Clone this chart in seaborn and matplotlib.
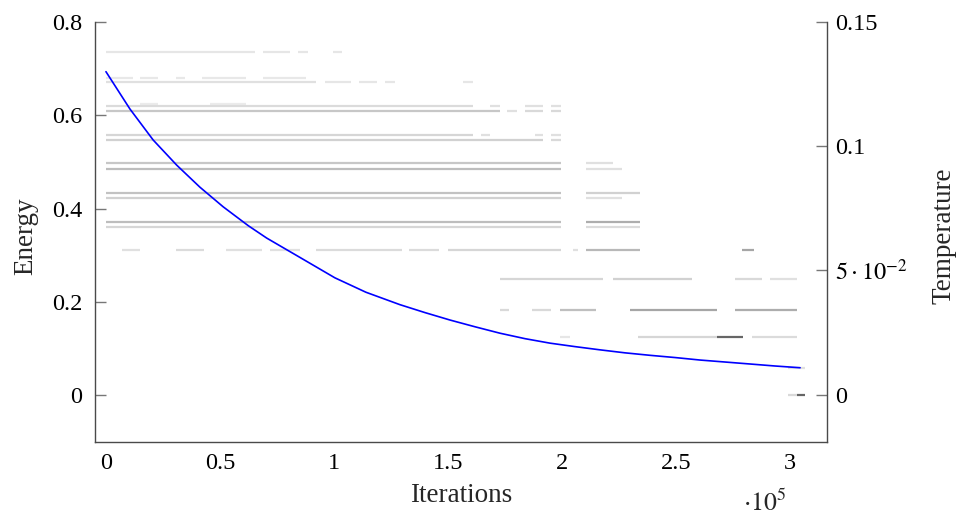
import matplotlib
matplotlib.use("Agg")
import matplotlib.pyplot as plt
import seaborn as sns
import pandas as pd

# Energy levels visited by the annealing run, as horizontal runs over iterations
seg_energy = [0.735, 0.735, 0.735, 0.735,
              0.680, 0.680, 0.680, 0.680, 0.680,
              0.672, 0.672, 0.672, 0.672, 0.672,
              0.624, 0.624,
              0.620, 0.620, 0.620, 0.620,
              0.609, 0.609, 0.609, 0.609,
              0.558, 0.558, 0.558, 0.558,
              0.547, 0.547,
              0.498, 0.498,
              0.485, 0.485,
              0.433, 0.433,
              0.423, 0.423,
              0.371, 0.371,
              0.360, 0.360,
              0.311, 0.311, 0.311, 0.311, 0.311, 0.311, 0.311, 0.311, 0.311, 0.311,
              0.249, 0.249, 0.249, 0.249,
              0.182, 0.182, 0.182, 0.182, 0.182,
              0.124, 0.124, 0.124, 0.124,
              0.058,
              0.0, 0.0]
seg_start = [0, 68900, 84200, 99600,
             0, 14900, 30700, 42100, 68900,
             0, 96100, 111000, 122400, 156600,
             14900, 45600,
             0, 168400, 183800, 195200,
             0, 175900, 183800, 195200,
             0, 164500, 188200, 195200,
             0, 195200,
             0, 210500,
             0, 210500,
             0, 210500,
             0, 210500,
             0, 210500,
             0, 210500,
             7000, 30700, 52600, 71900, 92100, 133000, 150000, 205000, 210500, 279000,
             172800, 222400, 275900, 291200,
             172800, 187000, 199100, 229800, 275900,
             199100, 233300, 268000, 283300,
             299100,
             299100, 303100]
seg_end = [65400, 80700, 88600, 103500,
           11800, 22800, 34600, 61400, 87700,
           92100, 107500, 118900, 126800, 161000,
           22800, 61400,
           161000, 172800, 191700, 199600,
           172800, 180300, 191700, 199600,
           161000, 168400, 191700, 199600,
           191700, 199600,
           199600, 222400,
           199600, 226300,
           199600, 234200,
           199600, 226300,
           199600, 234200,
           199600, 234200,
           14900, 43000, 68400, 85100, 130000, 146000, 199600, 207000, 234200, 284000,
           218000, 257000, 287700, 303100,
           176800, 195000, 214900, 268000, 303100,
           203500, 268000, 279400, 303100,
           306600,
           303100, 306600]
seg_shade = [0.10, 0.10, 0.10, 0.10,
             0.09, 0.09, 0.09, 0.09, 0.09,
             0.12, 0.10, 0.10, 0.10, 0.10,
             0.08, 0.08,
             0.14, 0.12, 0.12, 0.12,
             0.22, 0.12, 0.15, 0.15,
             0.16, 0.12, 0.12, 0.12,
             0.18, 0.15,
             0.22, 0.12,
             0.26, 0.12,
             0.24, 0.18,
             0.18, 0.12,
             0.26, 0.32,
             0.16, 0.14,
             0.12, 0.14, 0.12, 0.12, 0.14, 0.14, 0.16, 0.12, 0.28, 0.35,
             0.16, 0.18, 0.15, 0.12,
             0.15, 0.15, 0.25, 0.35, 0.32,
             0.10, 0.16, 0.60, 0.14,
             0.12,
             0.15, 0.60]

# Temperature schedule
temp_iter = [0, 10500, 20700, 31000, 41200, 51400, 62400, 70500, 85100,
             100400, 114000, 128900, 139900, 150900, 161800, 172800, 183800,
             194700, 205700, 216700, 227600, 238600, 249600, 260500, 271500,
             282500, 293400, 304400]
temp_value = [0.1300, 0.1150, 0.1025, 0.0924, 0.0835, 0.0756, 0.0680, 0.0630,
              0.0552, 0.0470, 0.0412, 0.0362, 0.0330, 0.0300, 0.0273, 0.0247,
              0.0225, 0.0207, 0.0193, 0.0180, 0.0168, 0.0158, 0.0149, 0.0139,
              0.0131, 0.0123, 0.0115, 0.0108]

x_ticks = [0, 50000, 100000, 150000, 200000, 250000, 300000]
x_tick_labels = ["0", "0.5", "1", "1.5", "2", "2.5", "3"]
energy_ticks = [0, 0.2, 0.4, 0.6, 0.8]
energy_tick_labels = ["0", "0.2", "0.4", "0.6", "0.8"]
temp_ticks = [0, 0.05, 0.1, 0.15]
temp_tick_labels = ["0", r"$5\cdot10^{-2}$", "0.1", "0.15"]

sns.set_theme(style="white")
plt.rcParams["font.family"] = ["Liberation Serif", "DejaVu Serif"]
plt.rcParams["mathtext.fontset"] = "stix"

FS = 17.5
LFS = 19.5
SPINE = "#4a4a4a"
TICK = "#777777"

fig = plt.figure(figsize=(9.58, 5.19), dpi=100)
ax = fig.add_axes([95 / 958, 1 - 442 / 519, (827 - 95) / 958, (442 - 22) / 519])

colors = [(1 - s, 1 - s, 1 - s) for s in seg_shade]
ax.hlines(seg_energy, seg_start, seg_end, colors=colors, linewidth=1.6,
          capstyle="butt")

ax.set_xlim(-4800, 316200)
ax.set_ylim(-0.1, 0.8)
ax.set_xticks(x_ticks)
ax.set_xticklabels(x_tick_labels)
ax.set_yticks(energy_ticks)
ax.set_yticklabels(energy_tick_labels)
ax.tick_params(axis="both", direction="in", length=8, width=1.0, color=TICK,
               labelsize=FS, labelcolor="black")
ax.tick_params(axis="y", pad=9)
ax.tick_params(axis="x", pad=8)
ax.set_xlabel("Iterations", fontsize=LFS)
ax.xaxis.set_label_coords(0.5, -0.098)
ax.set_ylabel("Energy", fontsize=LFS)
ax.yaxis.set_label_coords(-0.077, 0.49)
# shared scale factor of the iteration axis
ax.text(0.915, -0.146, r"$\cdot10^{5}$", transform=ax.transAxes,
        ha="center", va="center", fontsize=18.5)

ax2 = ax.twinx()
temp_df = pd.DataFrame({"iteration": temp_iter, "temperature": temp_value})
sns.lineplot(data=temp_df, x="iteration", y="temperature", ax=ax2,
             color="blue", linewidth=1.2)
ax2.set_ylim(-0.0191, 0.15)
ax2.set_yticks(temp_ticks)
ax2.set_yticklabels(temp_tick_labels)
ax2.tick_params(axis="y", direction="in", length=8, width=1.0, color=TICK,
                labelsize=FS, labelcolor="black", pad=6)
ax2.set_xlabel("")
ax2.set_ylabel("Temperature", fontsize=LFS)
ax2.yaxis.set_label_coords(1.1434, 0.49)

for a in (ax, ax2):
    a.spines["top"].set_visible(False)
    for side in ("left", "right", "bottom"):
        a.spines[side].set_color(SPINE)
        a.spines[side].set_linewidth(1.0)
ax.spines["right"].set_visible(False)
ax2.spines["left"].set_visible(False)
ax2.spines["bottom"].set_visible(False)

fig.savefig("out.png", dpi=100)
